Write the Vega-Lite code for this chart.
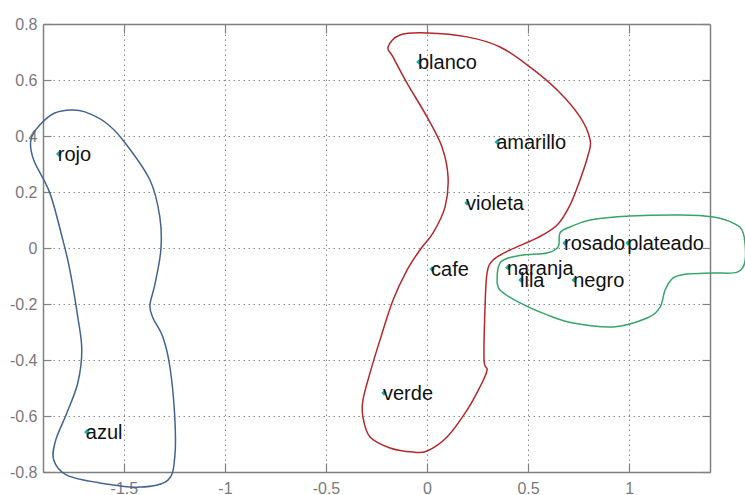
{
  "$schema": "https://vega.github.io/schema/vega-lite/v6.json",
  "width": 667,
  "height": 448,
  "autosize": {"type": "none"},
  "padding": {"left": 43, "top": 24, "right": 35, "bottom": 23},
  "background": "white",
  "config": {"view": {"stroke": null}},
  "datasets": {
    "curves": [
      {"g": "azul", "i": 1, "x": -1.757, "y": 0.493},
      {"g": "azul", "i": 2, "x": -1.693, "y": 0.486},
      {"g": "azul", "i": 3, "x": -1.594, "y": 0.45},
      {"g": "azul", "i": 4, "x": -1.505, "y": 0.386},
      {"g": "azul", "i": 5, "x": -1.371, "y": 0.243},
      {"g": "azul", "i": 6, "x": -1.322, "y": 0.111},
      {"g": "azul", "i": 7, "x": -1.317, "y": -0.007},
      {"g": "azul", "i": 8, "x": -1.347, "y": -0.132},
      {"g": "azul", "i": 9, "x": -1.371, "y": -0.204},
      {"g": "azul", "i": 10, "x": -1.356, "y": -0.25},
      {"g": "azul", "i": 11, "x": -1.307, "y": -0.318},
      {"g": "azul", "i": 12, "x": -1.272, "y": -0.425},
      {"g": "azul", "i": 13, "x": -1.248, "y": -0.604},
      {"g": "azul", "i": 14, "x": -1.248, "y": -0.746},
      {"g": "azul", "i": 15, "x": -1.282, "y": -0.829},
      {"g": "azul", "i": 16, "x": -1.421, "y": -0.854},
      {"g": "azul", "i": 17, "x": -1.619, "y": -0.839},
      {"g": "azul", "i": 18, "x": -1.782, "y": -0.811},
      {"g": "azul", "i": 19, "x": -1.847, "y": -0.757},
      {"g": "azul", "i": 20, "x": -1.837, "y": -0.686},
      {"g": "azul", "i": 21, "x": -1.782, "y": -0.589},
      {"g": "azul", "i": 22, "x": -1.728, "y": -0.482},
      {"g": "azul", "i": 23, "x": -1.708, "y": -0.364},
      {"g": "azul", "i": 24, "x": -1.728, "y": -0.246},
      {"g": "azul", "i": 25, "x": -1.767, "y": -0.079},
      {"g": "azul", "i": 26, "x": -1.802, "y": 0.029},
      {"g": "azul", "i": 27, "x": -1.866, "y": 0.196},
      {"g": "azul", "i": 28, "x": -1.946, "y": 0.314},
      {"g": "azul", "i": 29, "x": -1.96, "y": 0.386},
      {"g": "azul", "i": 30, "x": -1.916, "y": 0.439},
      {"g": "azul", "i": 31, "x": -1.842, "y": 0.482},
      {"g": "rojo", "i": 1, "x": -0.193, "y": 0.718},
      {"g": "rojo", "i": 2, "x": -0.134, "y": 0.761},
      {"g": "rojo", "i": 3, "x": 0.0, "y": 0.768},
      {"g": "rojo", "i": 4, "x": 0.198, "y": 0.754},
      {"g": "rojo", "i": 5, "x": 0.361, "y": 0.718},
      {"g": "rojo", "i": 6, "x": 0.51, "y": 0.646},
      {"g": "rojo", "i": 7, "x": 0.644, "y": 0.564},
      {"g": "rojo", "i": 8, "x": 0.757, "y": 0.468},
      {"g": "rojo", "i": 9, "x": 0.807, "y": 0.386},
      {"g": "rojo", "i": 10, "x": 0.797, "y": 0.332},
      {"g": "rojo", "i": 11, "x": 0.757, "y": 0.243},
      {"g": "rojo", "i": 12, "x": 0.708, "y": 0.154},
      {"g": "rojo", "i": 13, "x": 0.644, "y": 0.082},
      {"g": "rojo", "i": 14, "x": 0.545, "y": 0.036},
      {"g": "rojo", "i": 15, "x": 0.411, "y": -0.007},
      {"g": "rojo", "i": 16, "x": 0.327, "y": -0.043},
      {"g": "rojo", "i": 17, "x": 0.297, "y": -0.089},
      {"g": "rojo", "i": 18, "x": 0.287, "y": -0.211},
      {"g": "rojo", "i": 19, "x": 0.282, "y": -0.4},
      {"g": "rojo", "i": 20, "x": 0.297, "y": -0.436},
      {"g": "rojo", "i": 21, "x": 0.262, "y": -0.496},
      {"g": "rojo", "i": 22, "x": 0.198, "y": -0.579},
      {"g": "rojo", "i": 23, "x": 0.099, "y": -0.675},
      {"g": "rojo", "i": 24, "x": 0.0, "y": -0.725},
      {"g": "rojo", "i": 25, "x": -0.069, "y": -0.729},
      {"g": "rojo", "i": 26, "x": -0.183, "y": -0.714},
      {"g": "rojo", "i": 27, "x": -0.282, "y": -0.675},
      {"g": "rojo", "i": 28, "x": -0.317, "y": -0.604},
      {"g": "rojo", "i": 29, "x": -0.317, "y": -0.543},
      {"g": "rojo", "i": 30, "x": -0.282, "y": -0.446},
      {"g": "rojo", "i": 31, "x": -0.233, "y": -0.329},
      {"g": "rojo", "i": 32, "x": -0.168, "y": -0.186},
      {"g": "rojo", "i": 33, "x": -0.099, "y": -0.079},
      {"g": "rojo", "i": 34, "x": -0.035, "y": -0.007},
      {"g": "rojo", "i": 35, "x": 0.03, "y": 0.054},
      {"g": "rojo", "i": 36, "x": 0.089, "y": 0.146},
      {"g": "rojo", "i": 37, "x": 0.104, "y": 0.254},
      {"g": "rojo", "i": 38, "x": 0.074, "y": 0.361},
      {"g": "rojo", "i": 39, "x": 0.0, "y": 0.468},
      {"g": "rojo", "i": 40, "x": -0.099, "y": 0.589},
      {"g": "rojo", "i": 41, "x": -0.168, "y": 0.682},
      {"g": "verde", "i": 1, "x": 0.649, "y": 0.004},
      {"g": "verde", "i": 2, "x": 0.658, "y": 0.054},
      {"g": "verde", "i": 3, "x": 0.708, "y": 0.075},
      {"g": "verde", "i": 4, "x": 0.807, "y": 0.1},
      {"g": "verde", "i": 5, "x": 1.005, "y": 0.114},
      {"g": "verde", "i": 6, "x": 1.252, "y": 0.118},
      {"g": "verde", "i": 7, "x": 1.416, "y": 0.111},
      {"g": "verde", "i": 8, "x": 1.515, "y": 0.089},
      {"g": "verde", "i": 9, "x": 1.564, "y": 0.054},
      {"g": "verde", "i": 10, "x": 1.574, "y": -0.043},
      {"g": "verde", "i": 11, "x": 1.535, "y": -0.086},
      {"g": "verde", "i": 12, "x": 1.416, "y": -0.089},
      {"g": "verde", "i": 13, "x": 1.287, "y": -0.093},
      {"g": "verde", "i": 14, "x": 1.218, "y": -0.107},
      {"g": "verde", "i": 15, "x": 1.178, "y": -0.15},
      {"g": "verde", "i": 16, "x": 1.153, "y": -0.211},
      {"g": "verde", "i": 17, "x": 1.089, "y": -0.25},
      {"g": "verde", "i": 18, "x": 0.921, "y": -0.282},
      {"g": "verde", "i": 19, "x": 0.723, "y": -0.268},
      {"g": "verde", "i": 20, "x": 0.594, "y": -0.239},
      {"g": "verde", "i": 21, "x": 0.46, "y": -0.196},
      {"g": "verde", "i": 22, "x": 0.361, "y": -0.15},
      {"g": "verde", "i": 23, "x": 0.347, "y": -0.104},
      {"g": "verde", "i": 24, "x": 0.361, "y": -0.054},
      {"g": "verde", "i": 25, "x": 0.401, "y": -0.036},
      {"g": "verde", "i": 26, "x": 0.475, "y": -0.025},
      {"g": "verde", "i": 27, "x": 0.594, "y": -0.018}
    ],
    "points": [
      {"label": "rojo", "x": -1.822, "y": 0.336},
      {"label": "azul", "x": -1.683, "y": -0.657},
      {"label": "blanco", "x": -0.04, "y": 0.664},
      {"label": "amarillo", "x": 0.347, "y": 0.379},
      {"label": "violeta", "x": 0.198, "y": 0.161},
      {"label": "cafe", "x": 0.025, "y": -0.075},
      {"label": "verde", "x": -0.213, "y": -0.518},
      {"label": "naranja", "x": 0.4, "y": -0.07},
      {"label": "lila", "x": 0.465, "y": -0.114},
      {"label": "negro", "x": 0.728, "y": -0.114},
      {"label": "rosado", "x": 0.683, "y": 0.018},
      {"label": "plateado", "x": 0.995, "y": 0.018}
    ]
  },
  "layer": [
    {
      "data": {"name": "curves"},
      "mark": {"type": "line", "interpolate": "cardinal-closed", "strokeWidth": 1.5, "clip": false},
      "encoding": {
        "x": {
          "field": "x", "type": "quantitative",
          "scale": {"domain": [-1.9, 1.4], "nice": false, "zero": false},
          "axis": {
            "orient": "bottom", "title": null,
            "values": [-1.5, -1, -0.5, 0, 0.5, 1],
            "labelExpr": "datum.value + ''",
            "grid": true, "gridDash": [1.5, 3.5], "gridColor": "#8a8a8a", "gridWidth": 1,
            "tickSize": -9, "tickColor": "#808080", "tickWidth": 1.2,
            "domainColor": "#808080", "domainWidth": 1.5,
            "labelFont": "Liberation Sans", "labelFontSize": 16, "labelColor": "#7a7a7a",
            "labelPadding": 17
          }
        },
        "y": {
          "field": "y", "type": "quantitative",
          "scale": {"domain": [-0.8, 0.8], "nice": false, "zero": false},
          "axis": {
            "orient": "left", "title": null,
            "values": [-0.8, -0.6, -0.4, -0.2, 0, 0.2, 0.4, 0.6, 0.8],
            "labelExpr": "datum.value + ''",
            "grid": true, "gridDash": [1.5, 3.5], "gridColor": "#8a8a8a", "gridWidth": 1,
            "tickSize": -8, "tickColor": "#808080", "tickWidth": 1.2,
            "domainColor": "#808080", "domainWidth": 1.5,
            "labelFont": "Liberation Sans", "labelFontSize": 16, "labelColor": "#7a7a7a",
            "labelPadding": 14
          }
        },
        "color": {
          "field": "g", "type": "nominal",
          "scale": {"domain": ["azul", "rojo", "verde"], "range": ["#43648f", "#b3282b", "#35a56a"]},
          "legend": null
        },
        "detail": {"field": "g"},
        "order": {"field": "i", "type": "quantitative"}
      }
    },
    {
      "data": {"name": "points"},
      "mark": {"type": "point", "shape": "diamond", "filled": true, "size": 30, "color": "#14b0b0", "opacity": 1},
      "encoding": {
        "x": {
          "field": "x", "type": "quantitative",
          "axis": {
            "orient": "top", "title": null, "labels": false, "grid": false,
            "values": [-1.5, -1, -0.5, 0, 0.5, 1],
            "tickSize": -9, "tickColor": "#808080", "tickWidth": 1.2,
            "domainColor": "#808080", "domainWidth": 1.5
          }
        },
        "y": {
          "field": "y", "type": "quantitative",
          "axis": {
            "orient": "right", "title": null, "labels": false, "grid": false,
            "values": [-0.8, -0.6, -0.4, -0.2, 0, 0.2, 0.4, 0.6, 0.8],
            "tickSize": -8, "tickColor": "#808080", "tickWidth": 1.2,
            "domainColor": "#808080", "domainWidth": 1.5
          }
        }
      }
    },
    {
      "data": {"name": "points"},
      "mark": {"type": "text", "align": "left", "baseline": "middle", "dx": -1, "dy": 1, "font": "Liberation Sans", "fontSize": 20, "color": "#111111"},
      "encoding": {
        "x": {"field": "x", "type": "quantitative", "axis": null},
        "y": {"field": "y", "type": "quantitative", "axis": null},
        "text": {"field": "label"}
      }
    }
  ]
}
